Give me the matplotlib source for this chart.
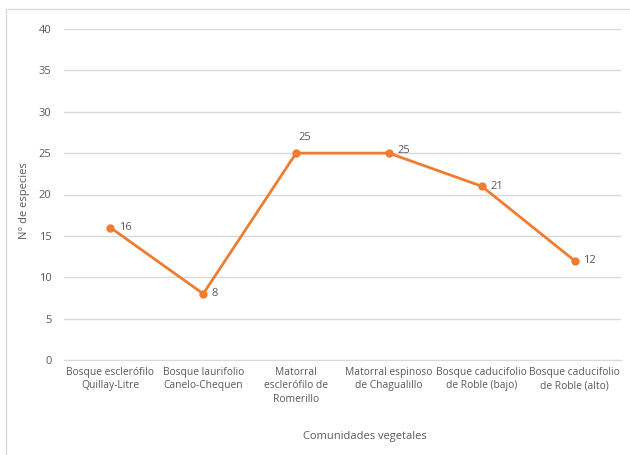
import matplotlib
matplotlib.use("Agg")
import matplotlib.pyplot as plt
from matplotlib.patches import Rectangle

categories = [
    "Bosque esclerófilo\nQuillay-Litre",
    "Bosque laurifolio\nCanelo-Chequen",
    "Matorral\nesclerófilo de\nRomerillo",
    "Matorral espinoso\nde Chagualillo",
    "Bosque caducifolio\nde Roble (bajo)",
    "Bosque caducifolio\nde Roble (alto)",
]
especies = [16, 8, 25, 25, 21, 12]
y_ticks = [0, 5, 10, 15, 20, 25, 30, 35, 40]

plt.rcParams["font.family"] = ["Open Sans", "DejaVu Sans"]
text_color = "#595959"
line_color = "#ED7D31"

fig = plt.figure(figsize=(6.30, 4.55), dpi=100)
fig.patches.append(Rectangle((6 / 630, -0.1), 1.0, 1.1 - 9 / 455,
                             transform=fig.transFigure, fill=False,
                             edgecolor="#d9d9d9", linewidth=1.0))

ax = fig.add_axes([64 / 630, 1 - 360 / 455, (621 - 64) / 630, (360 - 29) / 455])
x = list(range(len(categories)))
ax.plot(x, especies, color=line_color, linewidth=2.0, marker="o",
        markersize=5, solid_capstyle="round", zorder=3)

# data labels: right of each point, the first 25 sits above its marker
offsets = [(6, 0, "left", "center"), (6, 0, "left", "center"),
           (2, 7, "left", "bottom"), (6, 2, "left", "center"),
           (6, 0, "left", "center"), (6, 0, "left", "center")]
for xi, v, (dx, dy, ha, va) in zip(x, especies, offsets):
    ax.annotate(str(v), (xi, v), xytext=(dx, dy), textcoords="offset points",
                ha=ha, va=va, fontsize=8, color=text_color)

ax.set_xlim(-0.5, len(categories) - 0.5)
ax.set_ylim(0, 40)
ax.set_yticks(y_ticks)
ax.set_xticks(x)
ax.set_xticklabels(categories, fontsize=7.4, color=text_color, linespacing=1.3,
                   va="top")
ax.tick_params(axis="y", labelsize=8, colors=text_color, length=0, pad=9)
ax.tick_params(axis="x", length=0, pad=5)
ax.grid(axis="y", color="#d9d9d9", linewidth=1.0)
ax.set_axisbelow(True)
for s in ["top", "right", "left"]:
    ax.spines[s].set_visible(False)
ax.spines["bottom"].set_color("#d9d9d9")

ax.set_ylabel("N° de especies", fontsize=8, color=text_color)
ax.yaxis.set_label_coords(-0.061, 0.483)
fig.text(365 / 630, 1 - 437 / 455, "Comunidades vegetales", ha="center",
         va="center", fontsize=8, color=text_color)

fig.savefig("out.png", dpi=100)
